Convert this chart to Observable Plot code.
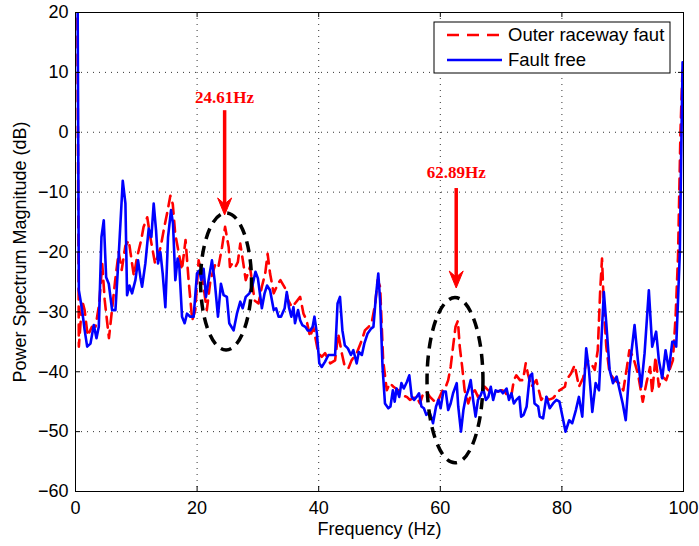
<!DOCTYPE html>
<html>
<head>
<meta charset="utf-8">
<script src="https://cdn.jsdelivr.net/npm/d3@7"></script>
<script src="https://cdn.jsdelivr.net/npm/@observablehq/plot@0.6"></script>
<style>
  html, body { margin: 0; padding: 0; background: #fff; }
  #chart svg { display: block; }
</style>
</head>
<body>
<div id="chart"></div>
<script>
// ---------- data ----------
const seriesNames = ["Outer raceway faut", "Fault free"];

const freqFault = [0, 0.3, 0.55, 1.1, 1.5, 2.0, 2.7, 3.3, 3.9, 4.4, 4.8, 5.5, 6.0, 6.5, 7.1, 7.6, 8.2, 8.76, 9.6, 10.1,
  10.8, 11.2, 11.8, 12.3, 13.1, 14.0, 14.5, 15.05, 15.6, 16.0, 16.4, 16.9, 17.5, 18.1, 18.6, 19.2, 19.7, 20.25, 20.8, 21.6,
  22.2, 23.0, 23.5, 24.1, 24.6, 25.2, 25.4, 25.8, 26.3, 26.7, 27.1, 27.6, 28.0, 28.7, 29.0, 29.45, 30.1, 30.65, 31.2, 31.6,
  32.0, 32.6, 33.3, 33.7, 34.5, 35.0, 35.6, 36.1, 36.95, 37.5, 38.0, 38.6, 39.1, 39.95, 40.5, 41.05, 41.9, 42.7, 43.2, 43.8,
  44.3, 44.9, 45.4, 46.25, 47.1, 47.6, 48.2, 48.7, 49.3, 49.7, 50.1, 50.6, 51.2, 51.7, 52.3, 53.1, 53.6, 54.5, 55.0, 55.55,
  56.1, 56.65, 57.2, 57.7, 58.3, 58.8, 59.4, 59.9, 60.5, 60.9, 61.3, 61.7, 62.1, 62.5, 62.89, 63.2, 63.6, 64.0, 64.6, 65.1,
  65.7, 66.2, 66.75, 67.3, 67.9, 68.4, 69.0, 69.5, 70.1, 70.6, 71.15, 71.7, 72.1, 72.5, 73.1, 73.6, 74.05, 74.4, 74.97, 75.8,
  76.6, 77.2, 77.8, 78.55, 79.6, 80.5, 80.7, 81.5, 82.1, 82.8, 83.5, 84.1, 84.8, 85.4, 85.9, 86.3, 86.6, 86.9, 87.3, 87.85,
  88.7, 89.4, 90.1, 90.7, 91.1, 91.7, 92.5, 93.3, 93.9, 94.5, 94.85, 95.4, 95.95, 96.5, 97.15, 97.7, 98.25, 98.7, 99.1, 99.5, 99.85];
const dbFault = [25, 22, -35.8, -28.1, -29.7, -34, -32.5, -32.5, -28.6, -22, -28, -34.4, -29.7, -25, -20, -23, -19, -18.1, -24, -21,
  -18, -15.8, -14.2, -17.5, -22, -19.2, -16.4, -13.6, -10.6, -12, -17, -19.7, -23, -18, -24.7, -31.4, -29.7, -21.4, -24, -29.7,
  -24.7, -22, -22.5, -19.2, -15.8, -19.2, -22.5, -21.9, -22.5, -21.7, -18.6, -21.9, -24.7, -22.5, -24.7, -28.1, -28.6, -25.8, -23.6, -20.3,
  -23.6, -26.9, -25.3, -24.7, -26.1, -28.1, -29.2, -28.6, -27.5, -30.3, -31.4, -34.2, -32.5, -36.9, -37.5, -36.9, -38.6, -38.1, -33.6, -36.9,
  -39.2, -39.4, -38.1, -36.9, -34.7, -33.1, -32.5, -31.9, -28.6, -24.7, -25.8, -38.1, -43.1, -41.9, -42.5, -43.1, -43.9, -44.2, -44.7, -44.4,
  -44.2, -45.3, -43.6, -43.3, -44.2, -44.7, -45.3, -44.2, -42.8, -42.5, -41.4, -39.2, -35.8, -32.5, -31.5, -35.8, -39.2, -43.1, -45.3, -43.6,
  -43.1, -44.2, -43.3, -42.5, -43.1, -43.3, -43.3, -43.3, -43.1, -43.3, -44.2, -43.9, -41.4, -40.6, -41.4, -41.4, -38.6, -40.3, -42.5, -41.4,
  -44.7, -43.9, -44.7, -44.4, -43.1, -42.5, -41.4, -40.3, -38.9, -42.5, -41, -38, -38.6, -39.7, -36.4, -26.4, -21.1, -29.2, -35.8, -40.3,
  -41.4, -41.9, -43.1, -39.2, -36.4, -37.5, -40.3, -45, -41.9, -39.2, -43.6, -37.5, -42.5, -40.8, -41.4, -39.7, -38.1, -30.8, -20.8, 0, 11];

const freqFree = [0, 0.35, 0.55, 1.09, 1.5, 1.92, 2.46, 3.01, 3.45, 3.83, 4.27, 4.65, 5.04, 5.47, 6.02, 6.57, 7.12, 7.77, 8.21, 8.48,
  8.87, 9.3, 9.85, 10.29, 10.67, 10.95, 11.49, 12.04, 12.48, 12.86, 13.25, 13.57, 13.96, 14.34, 14.78, 15.22, 15.71, 16.04, 16.42, 16.8,
  17.08, 17.52, 17.95, 18.34, 18.88, 19.43, 19.98, 20.36, 20.69, 21.07, 21.46, 21.89, 22.44, 22.88, 23.43, 23.92, 24.36, 24.9, 25.29, 26.0,
  26.55, 27.1, 27.5, 28.0, 28.6, 29.1, 29.6, 30.0, 30.65, 31.1, 31.5, 32.0, 32.6, 33.0, 33.4, 33.8, 34.4, 34.75, 35.1, 35.5,
  35.85, 36.1, 36.6, 36.95, 37.3, 37.8, 38.2, 38.6, 39.0, 39.3, 39.7, 40.1, 40.5, 41.05, 41.6, 42.2, 42.7, 43.1, 43.5, 43.9,
  44.3, 44.8, 45.3, 45.7, 46.25, 46.6, 47.1, 47.5, 48.05, 48.6, 49.0, 49.4, 49.8, 50.1, 50.5, 50.9, 51.45, 51.8, 52.2, 52.5,
  52.8, 53.25, 53.6, 54.0, 54.5, 54.9, 55.3, 55.7, 56.1, 56.5, 56.9, 57.3, 57.7, 58.2, 58.6, 58.8, 59.3, 59.7, 60.05, 60.5,
  60.9, 61.3, 61.7, 62.1, 62.7, 62.95, 63.4, 63.8, 64.2, 64.6, 65.0, 65.4, 65.8, 66.2, 66.65, 67.05, 67.5, 67.9, 68.3, 68.7,
  69.1, 69.5, 69.9, 70.3, 70.9, 71.3, 71.7, 72.1, 72.5, 73.0, 73.3, 73.7, 74.2, 74.7, 75.1, 75.5, 76.1, 76.35, 76.9, 77.45,
  78.0, 78.55, 79.1, 79.6, 80.1, 80.6, 81.2, 81.7, 82.3, 82.8, 83.35, 84.0, 84.45, 85.0, 85.55, 86.1, 86.5, 86.9, 87.3, 87.85,
  88.4, 89.0, 89.5, 90.0, 90.5, 91.1, 91.95, 92.5, 93.05, 93.6, 94.3, 94.85, 95.5, 95.95, 96.5, 97.05, 97.6, 98.15, 98.5, 98.8,
  99.1, 99.4, 99.6, 99.85];
const dbFree = [25, 22, -26.4, -29.7, -33, -35.8, -35.3, -32.2, -34.4, -32.5, -17.5, -14.7, -24.2, -25.3, -29.7, -29.7, -20.3, -8.1, -11.9, -27.2,
  -25.6, -26.9, -24.7, -21.4, -24.2, -25.8, -21.9, -16.1, -17.5, -11.9, -16.4, -21.9, -20, -23.6, -29.2, -17.5, -13, -15.3, -24.7, -21.1,
  -22.5, -30.8, -31.9, -30.3, -30.8, -30.8, -23.6, -23.1, -24.7, -22.8, -27.5, -24.7, -21.4, -24.7, -30.8, -25.3, -27.2, -27.5, -31.9, -33.1,
  -30.3, -28.3, -29.4, -27.5, -26.9, -25.6, -23.3, -24.4, -29.4, -26.9, -25.6, -26.4, -29.7, -29.4, -30.8, -30.8, -29.4, -26.7, -29.2, -30.8,
  -29.2, -31.9, -29.7, -31.4, -32.2, -32.5, -33.1, -33.1, -32.5, -30.8, -33.6, -38.6, -39.2, -38.3, -37.2, -37.2, -37.2, -28.6, -27.5, -33.1,
  -35.6, -36.1, -37.2, -36.4, -38.6, -36.7, -37.2, -35.3, -33.6, -32.8, -32.5, -27.5, -23.6, -28.1, -39.2, -45.3, -46.1, -45.8, -43.1, -45,
  -42.8, -44.2, -41.9, -42.8, -41.7, -40.6, -44.2, -44.7, -44.2, -43.6, -45.8, -46.1, -47.2, -46.7, -47.8, -48.6, -45.8, -44.7, -46.1, -43.3,
  -43.3, -46.4, -45.3, -43.6, -41.9, -45.8, -50, -46.4, -44.2, -43.1, -41.4, -44.7, -47.5, -44.7, -43.9, -42.8, -44.7, -44.2, -42.5, -44.7,
  -43.1, -43.3, -43.1, -43.6, -42.8, -44.7, -43.6, -45.3, -44.7, -44.2, -47.5, -47.2, -45.8, -40.8, -40.3, -45.3, -45.8, -47.5, -47.8, -44.2,
  -46.1, -45.3, -44.7, -45, -47.5, -50, -48.1, -48.6, -46.4, -44.2, -47.5, -36.1, -39.7, -46.7, -41.9, -43.1, -34.7, -26.7, -31.9, -39.7,
  -41.9, -40.8, -43.1, -45.3, -48.1, -39.7, -32.2, -38.1, -42.5, -36.9, -26.4, -35.8, -33.3, -38.1, -41.1, -36.4, -39.7, -35, -35, -35.8,
  -28, -20, -5, 11.7];

const xTicks = [0, 20, 40, 60, 80, 100];
const yTicks = [-60, -50, -40, -30, -20, -10, 0, 10, 20];
const xLabel = "Frequency (Hz)";
const yLabel = "Power Spectrum Magnitude (dB)";

// annotations (data units)
const annLabels = ["24.61Hz", "62.89Hz"];
const annFreq = [24.61, 62.7];
const annTextDb = [4.85, -7.7];
const arrowTopDb = [3.6, -9.4];
const arrowTipDb = [-13.9, -26.1];
const ellCenterFreq = [24.84, 62.5];
const ellCenterDb = [-25.0, -41.5];
const ellRadFreq = [4.19, 4.6];
const ellRadDb = [11.44, 13.8];

// ---------- build ----------
const fault = freqFault.map((f, i) => ({f, v: dbFault[i]}));
const free = freqFree.map((f, i) => ({f, v: dbFree[i]}));
const ann = annLabels.map((label, i) => ({
  label, f: annFreq[i], ty: annTextDb[i], y1: arrowTopDb[i], y2: arrowTipDb[i],
  cx: ellCenterFreq[i], cy: ellCenterDb[i], rx: ellRadFreq[i], ry: ellRadDb[i]
}));

const W = 699, H = 546;
const mL = 75, mR = 16, mT = 12, mB = 55;
const plotW = W - mL - mR, plotH = H - mT - mB;
const FONT = "'Liberation Sans', Arial, Helvetica, sans-serif";
const FS = 18;

const RED = "#ff0000", BLUE = "#0000ff";

function annotationMark(index, scales) {
  const g = d3.create("svg:g");
  for (const a of ann) {
    const cx = scales.x(a.cx), cy = scales.y(a.cy);
    const rx = Math.abs(scales.x(a.cx + a.rx) - cx);
    const ry = Math.abs(scales.y(a.cy + a.ry) - cy);
    g.append("ellipse")
      .attr("cx", cx).attr("cy", cy).attr("rx", rx).attr("ry", ry)
      .attr("fill", "none").attr("stroke", "#000").attr("stroke-width", 3.5)
      .attr("stroke-dasharray", "11,7");
    const x = scales.x(a.f), yTop = scales.y(a.y1), yTip = scales.y(a.y2);
    g.append("line")
      .attr("x1", x).attr("x2", x).attr("y1", yTop).attr("y2", yTip - 10)
      .attr("stroke", RED).attr("stroke-width", 3.5);
    g.append("path")
      .attr("d", `M${x},${yTip} L${x - 7},${yTip - 17} L${x},${yTip - 11} L${x + 7},${yTip - 17} Z`)
      .attr("fill", RED).attr("stroke", RED).attr("stroke-width", 1);
    g.append("text")
      .attr("x", x).attr("y", scales.y(a.ty))
      .attr("text-anchor", "middle")
      .attr("font-family", "'Liberation Serif', 'Times New Roman', serif")
      .attr("font-weight", "bold").attr("font-size", 17)
      .attr("fill", RED)
      .text(a.label);
  }
  return g.node();
}

function legendMark(index, scales, values, dims) {
  const g = d3.create("svg:g");
  const right = dims.width - dims.marginRight;
  const bx = right - 249, by = dims.marginTop + 10;
  const bw = 236, bh = 51;
  g.append("rect").attr("x", bx).attr("y", by).attr("width", bw).attr("height", bh)
    .attr("fill", "#fff").attr("stroke", "#000").attr("stroke-width", 1);
  const rows = [
    {name: seriesNames[0], color: RED, dash: "12,8"},
    {name: seriesNames[1], color: BLUE, dash: null}
  ];
  rows.forEach((r, i) => {
    const yy = by + 13 + i * 25;
    const l = g.append("line").attr("x1", bx + 13).attr("x2", bx + 68)
      .attr("y1", yy).attr("y2", yy).attr("stroke", r.color).attr("stroke-width", 2.5);
    if (r.dash) l.attr("stroke-dasharray", r.dash);
    g.append("text").attr("x", bx + 74).attr("y", yy).attr("dy", "0.35em")
      .attr("text-anchor", "start")
      .attr("font-family", FONT).attr("font-size", 18.5).attr("fill", "#000")
      .text(r.name);
  });
  return g.node();
}

const chart = Plot.plot({
  width: W, height: H,
  marginLeft: mL, marginRight: mR, marginTop: mT, marginBottom: mB,
  style: {fontFamily: FONT, fontSize: FS + "px", color: "#000", background: "#fff"},
  x: {domain: [0, 100]},
  y: {domain: [-60, 20]},
  marks: [
    Plot.ruleX(xTicks.slice(1, -1), {x: d => d, stroke: "#333", strokeWidth: 1, strokeDasharray: "1,5"}),
    Plot.ruleY(yTicks.slice(1, -1), {y: d => d, stroke: "#333", strokeWidth: 1, strokeDasharray: "1,5"}),
    Plot.line(fault, {x: "f", y: "v", stroke: RED, strokeWidth: 2.6, strokeDasharray: "11,7", clip: true}),
    Plot.line(free, {x: "f", y: "v", stroke: BLUE, strokeWidth: 2.6, strokeLinejoin: "round", clip: true}),
    Plot.tickX(xTicks, {x: d => d, insetTop: plotH - 5, stroke: "#000"}),
    Plot.tickX(xTicks, {x: d => d, insetBottom: plotH - 5, stroke: "#000"}),
    Plot.tickY(yTicks, {y: d => d, insetRight: plotW - 5, stroke: "#000"}),
    Plot.tickY(yTicks, {y: d => d, insetLeft: plotW - 5, stroke: "#000"}),
    Plot.frame({stroke: "#000", strokeWidth: 1}),
    Plot.axisX(xTicks, {tickSize: 0, tickPadding: 10, label: null, fontSize: FS}),
    Plot.axisY(yTicks, {tickSize: 0, tickPadding: 7, label: null, fontSize: FS, tickFormat: d => d3.format("d")(d).replace("-", "\u2212")}),
    Plot.text([xLabel], {frameAnchor: "bottom", dy: 43, text: d => d, fontSize: FS}),
    Plot.text([yLabel], {frameAnchor: "left", textAnchor: "middle", dx: -55, rotate: -90, text: d => d, fontSize: FS}),
    annotationMark,
    legendMark
  ]
});

document.getElementById("chart").appendChild(chart);
</script>
</body>
</html>
